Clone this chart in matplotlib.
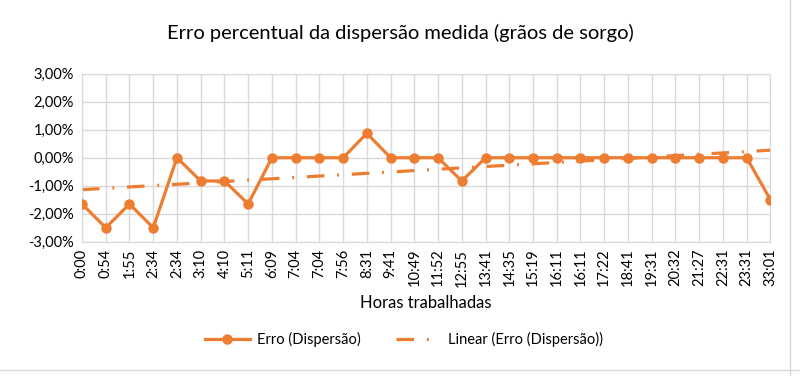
import matplotlib
matplotlib.use("Agg")
import matplotlib.pyplot as plt
import numpy as np
from matplotlib.ticker import FuncFormatter

categories = ["0:00", "0:54", "1:55", "2:34", "2:34", "3:10", "4:10", "5:11", "6:09",
              "7:04", "7:04", "7:56", "8:31", "9:41", "10:49", "11:52", "12:55", "13:41",
              "14:35", "15:19", "16:11", "16:11", "17:22", "18:41", "19:31", "20:32",
              "21:27", "22:31", "23:31", "33:01"]
erro = [-1.65, -2.5, -1.65, -2.5, 0.0, -0.83, -0.83, -1.65, 0.0,
        0.0, 0.0, 0.0, 0.87, 0.0, 0.0, 0.0, -0.83, 0.0,
        0.0, 0.0, 0.0, 0.0, 0.0, 0.0, 0.0, 0.0,
        0.0, 0.0, 0.0, -1.5]

orange = "#ED7D31"
plt.rcParams['font.family'] = ['Lato', 'DejaVu Sans']

fig = plt.figure(figsize=(8, 3.76), dpi=100)
ax = fig.add_axes([0.1025, 0.357, 0.8605, 0.447])

x = np.arange(len(categories))
y = np.array(erro)
coef = np.polyfit(x, y, 1)
trend = np.polyval(coef, x)

ax.plot(x, trend, color=orange, lw=2.3, dashes=(5.5, 4, 0.6, 4),
        label="Linear (Erro (Dispersão))", zorder=2)
ax.plot(x, y, color=orange, lw=2.3, marker='o', markersize=6.5,
        label="Erro (Dispersão)", zorder=3)

ax.set_xlim(0, len(categories) - 1)
ax.set_ylim(-3, 3)
ax.set_yticks(np.arange(-3, 3.01, 1))
ax.yaxis.set_major_formatter(FuncFormatter(lambda v, p: f"{v:.2f}%".replace(".", ",")))
ax.set_xticks(x)
ax.set_xticklabels(categories, rotation=90, fontsize=10.5)
ax.tick_params(axis='y', labelsize=10.5, length=0, pad=6)
ax.tick_params(axis='x', length=0, pad=5)
ax.grid(True, color="#D9D9D9", lw=1)
for s in ax.spines.values():
    s.set_color("#D9D9D9")
ax.set_axisbelow(True)

ax.set_xlabel("Horas trabalhadas", fontsize=12, labelpad=6)
fig.text(0.5, 0.912, "Erro percentual da dispersão medida (grãos de sorgo)",
         ha='center', va='center', fontsize=14.5)

handles, labels = ax.get_legend_handles_labels()
fig.legend(handles[::-1], labels[::-1], loc='center', bbox_to_anchor=(0.505, 0.097),
           ncol=2, frameon=False, fontsize=10.5, handlelength=3.1, handletextpad=0.5,
           columnspacing=2.4)

fig.add_artist(plt.Line2D([0.9875, 0.9875], [0.0, 1.0], color="#D9D9D9", lw=1))
fig.add_artist(plt.Line2D([0.0, 1.0], [0.015, 0.015], color="#D9D9D9", lw=1))

fig.savefig("out.png", dpi=100)
